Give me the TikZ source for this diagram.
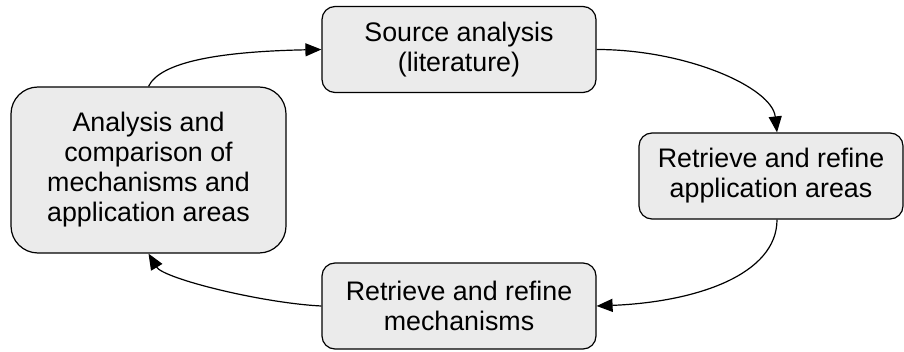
\documentclass[tikz,border=0pt]{standalone}
\usepackage{fontspec}
\setmainfont{Liberation Sans}
\usetikzlibrary{arrows.meta}
\definecolor{boxfill}{RGB}{235,235,235}
\tikzset{
  stagebox/.style={draw=black, fill=boxfill, line width=1.2pt, rounded corners=13pt,
    align=center, inner sep=0pt, font=\fontsize{26.8}{30}\selectfont},
  flow/.style={line width=1.2pt, -{Triangle[length=16pt,width=13pt]}}
}
\begin{document}
\begin{tikzpicture}[x=1pt,y=1pt]
\useasboundingbox (0,0) rectangle (904,-352);
\node[stagebox, rounded corners=27pt, minimum width=275pt, minimum height=166pt] (analysis) at (148.5,-170)
  {Analysis and\\comparison of\\mechanisms and\\application areas};
\node[stagebox, minimum width=274pt, minimum height=86pt] (source) at (459,-49.5)
  {Source analysis\\(literature)};
\node[stagebox, minimum width=264pt, minimum height=86pt] (areas) at (771,-176)
  {Retrieve and refine\\application areas};
\node[stagebox, minimum width=274pt, minimum height=86pt] (mech) at (459,-306)
  {Retrieve and refine\\mechanisms};
\draw[flow] (analysis.north) .. controls +(12,25) and +(-100,-2) .. (source.west);
\draw[flow] (source.east) .. controls +(90,0) and +(-5,45) .. ([xshift=6pt]areas.north);
\draw[flow] ([xshift=6pt]areas.south) .. controls +(0,-55) and +(100,4) .. (mech.east);
\draw[flow] (mech.west) .. controls +(-60,3) and +(15,-25) .. (analysis.south);
\end{tikzpicture}
\end{document}
